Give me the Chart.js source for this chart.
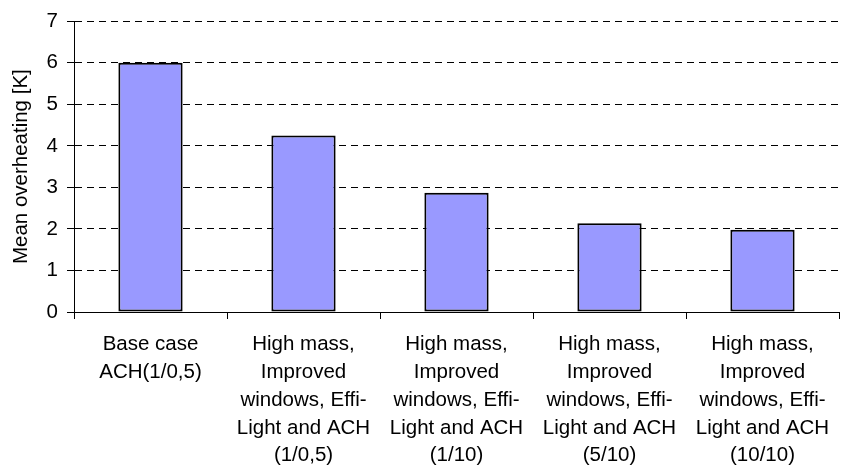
<!DOCTYPE html>
<html>
<head>
<meta charset="utf-8">
<script src="https://cdn.jsdelivr.net/npm/chart.js@4/dist/chart.umd.min.js"></script>
<style>
  html, body { margin: 0; padding: 0; background: #fff; }
</style>
</head>
<body>
<canvas id="chart" width="847" height="474"></canvas>
<script>
const categories = [
  ["Base case", "ACH(1/0,5)"],
  ["High mass,", "Improved", "windows, Effi-", "Light and ACH", "(1/0,5)"],
  ["High mass,", "Improved", "windows, Effi-", "Light and ACH", "(1/10)"],
  ["High mass,", "Improved", "windows, Effi-", "Light and ACH", "(5/10)"],
  ["High mass,", "Improved", "windows, Effi-", "Light and ACH", "(10/10)"],
];
const overheating = [6.0, 4.25, 2.87, 2.14, 1.98];
const yTitle = "Mean overheating [K]";

const font = { family: "'Liberation Sans', Arial, sans-serif", size: 20.5 };

const ctx = document.getElementById("chart");

new Chart(ctx, {
  type: "bar",
  data: {
    labels: categories,
    datasets: [
      {
        data: overheating,
        backgroundColor: "#9999ff",
        borderColor: "#000",
        borderWidth: 2,
        borderSkipped: false,
        categoryPercentage: 1,
        barPercentage: 0.42,
      },
    ],
  },
  options: {
    responsive: false,
    animation: false,
    layout: { padding: { top: 19, right: 8, left: 0, bottom: 0 } },
    plugins: {
      legend: { display: false },
      tooltip: { enabled: false },
    },
    scales: {
      x: {
        grid: {
          drawOnChartArea: false,
          tickLength: 7,
          color: "#000",
        },
        border: { color: "#000", width: 1 },
        ticks: {
          color: "#000",
          font: { ...font, lineHeight: 1.35 },
          maxRotation: 0,
          autoSkip: false,
          padding: 12,
        },
        afterFit: function (scale) {
          scale.height = 162;
        },
      },
      y: {
        min: 0,
        max: 7,
        ticks: { stepSize: 1, color: "#000", font: font, padding: 9 },
        grid: { color: "#000", tickLength: 7, tickBorderDash: [] },
        border: { color: "#000", width: 1, dash: [7, 5] },
        title: {
          display: true,
          text: yTitle,
          color: "#000",
          font: font,
          padding: { top: 9, bottom: 0 },
        },
        afterFit: function (scale) {
          scale.width = 74;
        },
      },
    },
  },
});
</script>
</body>
</html>
